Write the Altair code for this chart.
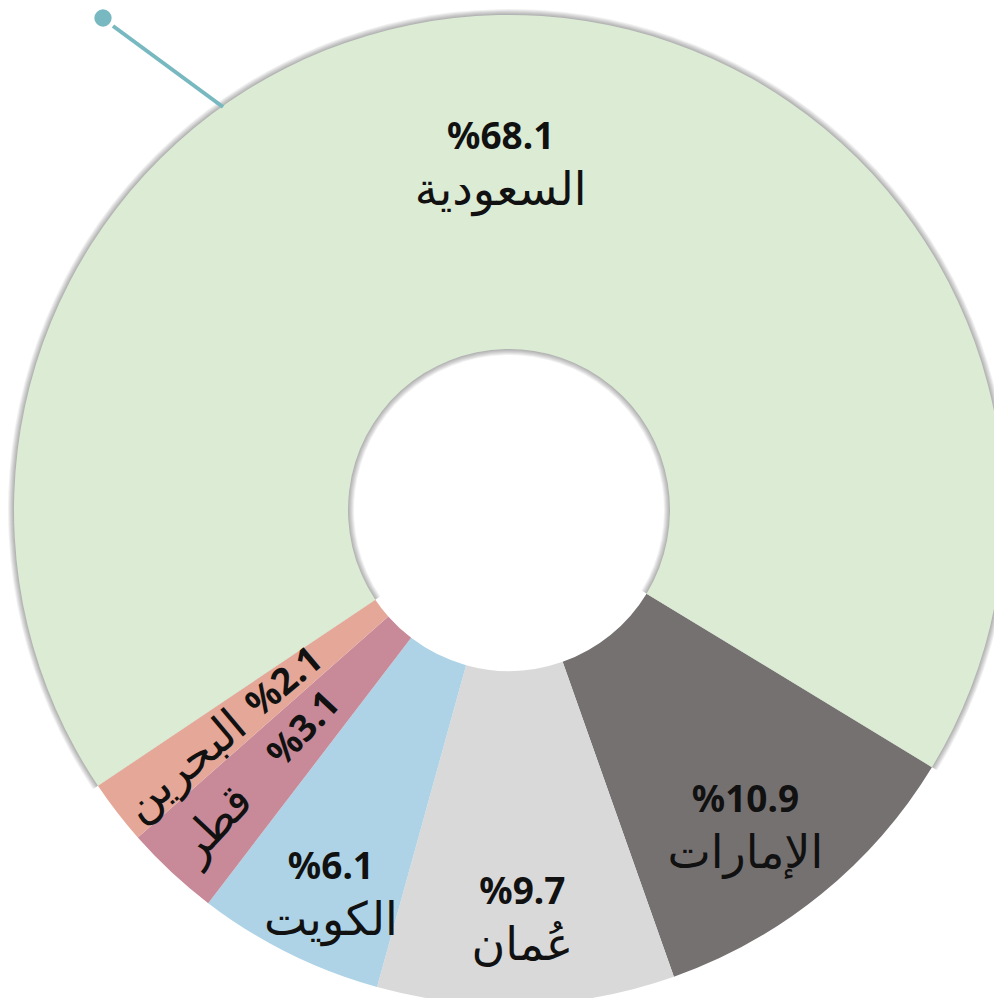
import math
import altair as alt
import pandas as pd

# ---- data ----
countries = ["الإمارات", "عُمان", "الكويت", "قطر", "البحرين", "السعودية"]
shares = [10.9, 9.7, 6.1, 3.1, 2.1, 68.1]

# ---- styles / layout (not data) ----
colors = ["#767171", "#d9d9d9", "#aed3e6", "#c88a99", "#e5a797", "#dbebd4"]
pct_radius = [375, 383, 400, 300, 283, 372]
label_angle = [0, 0, 0, 313, 320, 0]
start = math.radians(121.3)
R_OUT, R_IN = 495, 161

df = pd.DataFrame({
    "country": countries,
    "share": shares,
    "idx": list(range(len(countries))),
    "pr": pct_radius,
    "ang": label_angle,
})

theta_scale = alt.Scale(domain=[0, 100], range=[start, start + 2 * math.pi])
color_scale = alt.Scale(domain=countries, range=colors)

base = alt.Chart(df).transform_window(
    cum="sum(share)", sort=[alt.SortField("idx")], frame=[None, 0]
).transform_calculate(
    mid="datum.cum - datum.share / 2",
    label="'%' + format(datum.share, '.1f')",
)

layers = []
for k in range(1, 7):
    layers.append(
        base.mark_arc(outerRadius=R_OUT + k, innerRadius=R_IN - k, color="black").encode(
            theta=alt.Theta("share:Q", stack=True, scale=theta_scale),
            order=alt.Order("idx:Q"),
            opacity=alt.condition(alt.datum.country == "السعودية", alt.value(0.055), alt.value(0)),
        )
    )

layers.append(
    base.mark_arc(outerRadius=R_OUT, innerRadius=R_IN).encode(
        theta=alt.Theta("share:Q", stack=True, scale=theta_scale),
        order=alt.Order("idx:Q"),
        color=alt.Color("country:N", scale=color_scale, legend=None),
    )
)

pct = base.mark_text(font="Noto Sans", fontWeight="bold", fontSize=37, color="#111111",
                     align="center", baseline="middle").encode(
    theta=alt.Theta("mid:Q", stack=None, scale=theta_scale),
    radius=alt.Radius("pr:Q", scale=None),
    angle=alt.Angle("ang:Q", scale=None),
    text="label:N",
)
layers.append(pct)

names_h = base.transform_filter("datum.ang == 0").mark_text(
    font="DejaVu Sans", fontSize=46, color="#111111", align="center", baseline="middle", dy=53
).encode(
    theta=alt.Theta("mid:Q", stack=None, scale=theta_scale),
    radius=alt.Radius("pr:Q", scale=None),
    text="country:N",
)
layers.append(names_h)

names_r = base.transform_filter("datum.ang != 0").mark_text(
    font="DejaVu Sans", fontSize=46, color="#111111", align="center", baseline="middle", dx=-130
).encode(
    theta=alt.Theta("mid:Q", stack=None, scale=theta_scale),
    radius=alt.Radius("pr:Q", scale=None),
    angle=alt.Angle("ang:Q", scale=None),
    text="country:N",
)
layers.append(names_r)

# leader-line annotation at top-left
ann = pd.DataFrame({"a": [0]})
layers.append(
    alt.Chart(ann).mark_rule(color="#77b8c1", strokeWidth=4).encode(
        x=alt.value(89), y=alt.value(4), x2=alt.value(199), y2=alt.value(85)
    )
)
layers.append(
    alt.Chart(ann).mark_point(color="#77b8c1", filled=True, opacity=1, size=300, shape="circle").encode(
        x=alt.value(79), y=alt.value(-4)
    )
)

chart = alt.layer(*layers).properties(
    width=970, height=976,
    padding={"left": 16, "top": 14, "right": 0, "bottom": 0},
    autosize=alt.AutoSizeParams(type="none"),
).configure_view(stroke=None)

chart.save("out.html", embed_options={"renderer": "svg", "actions": False})
